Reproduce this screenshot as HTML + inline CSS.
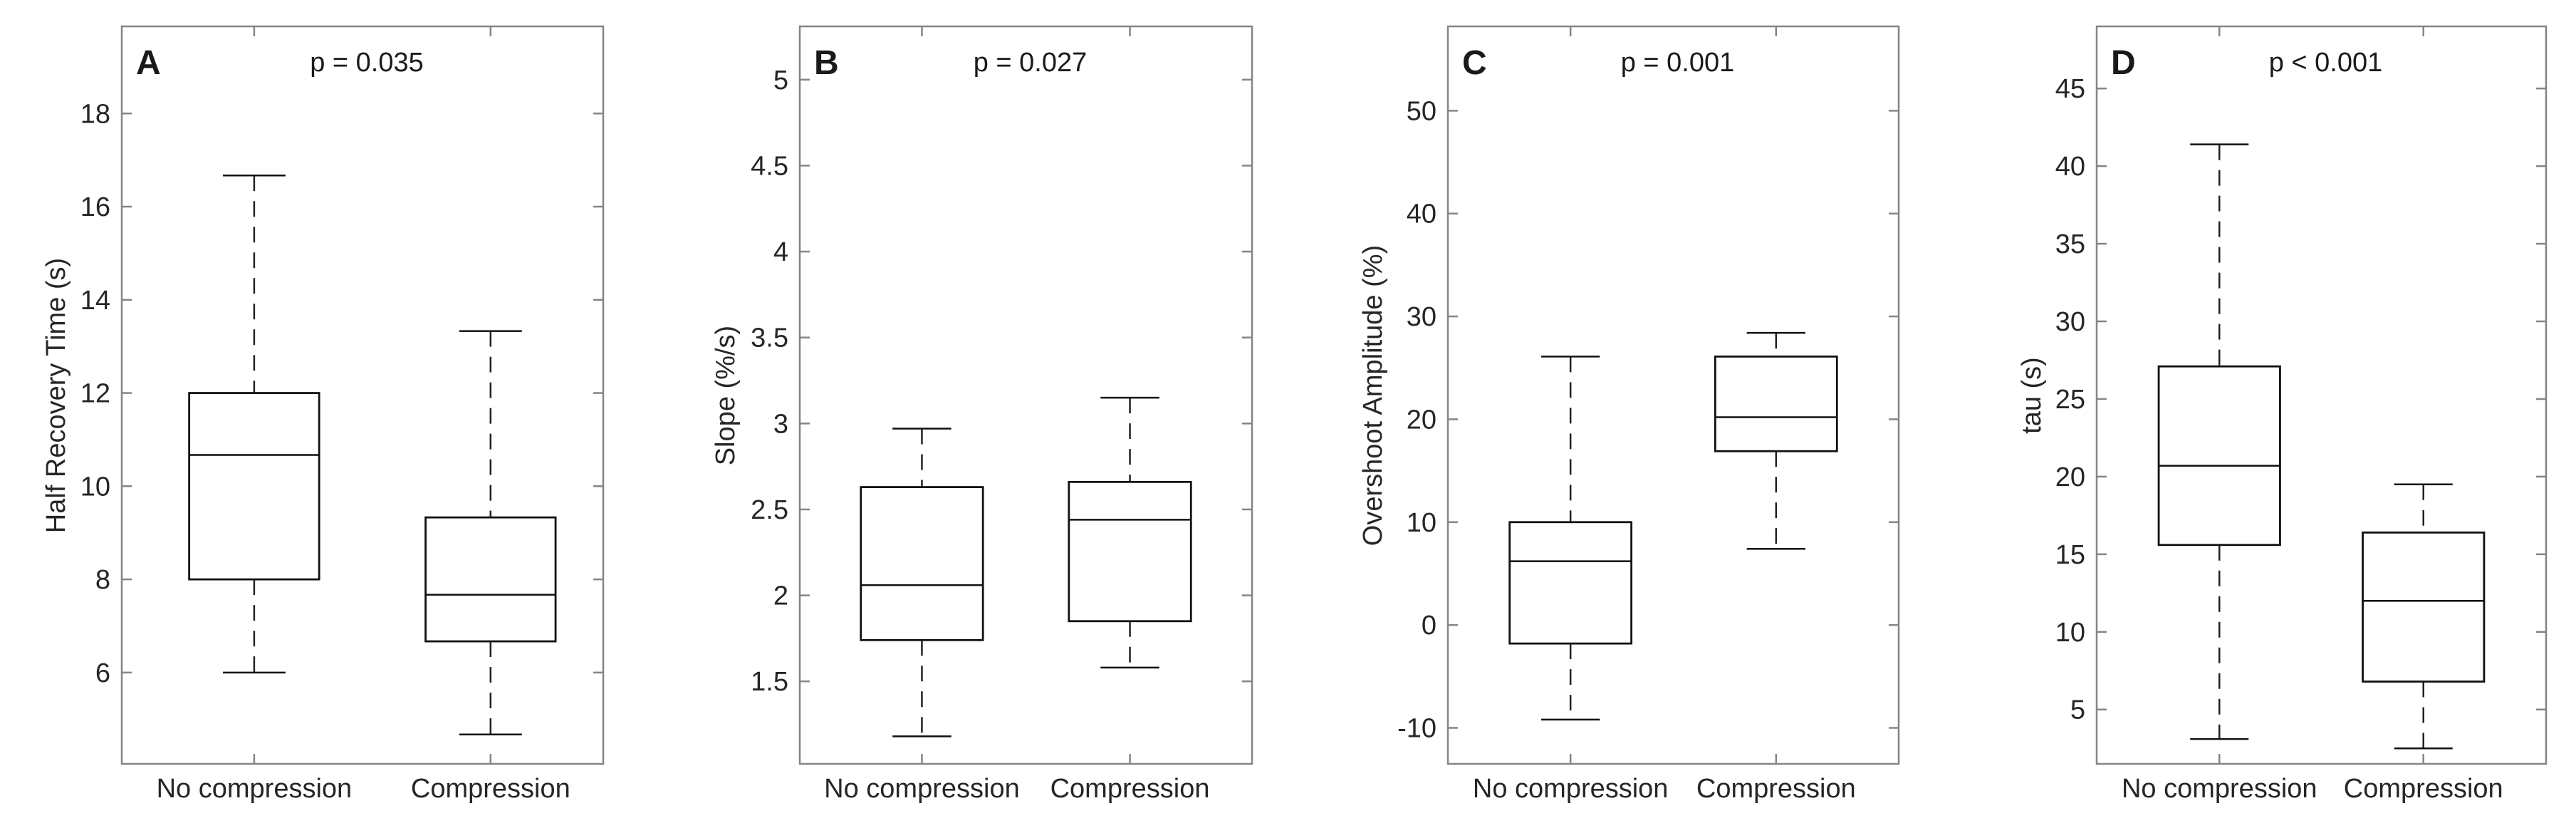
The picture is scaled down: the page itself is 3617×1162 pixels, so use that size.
<!DOCTYPE html>
<html><head><meta charset="utf-8"><style>
html,body{margin:0;padding:0;background:#fff;}
svg{display:block;font-family:"Liberation Sans",Arial,sans-serif;}
</style></head><body>
<svg id="fig" width="3617" height="1162" viewBox="0 0 3617 1162"></svg>
<script>
const categories = ["No compression", "Compression"];
const panelLetters = ["A", "B", "C", "D"];
const pLabels = ["p = 0.035", "p = 0.027", "p = 0.001", "p < 0.001"];
const yTitles = ["Half Recovery Time (s)", "Slope (%/s)", "Overshoot Amplitude (%)", "tau (s)"];
// [upperWhisker, q3, median, q1, lowerWhisker]
const seriesA = [[16.67, 12.0, 10.67, 8.0, 6.0], [13.33, 9.33, 7.67, 6.67, 4.67]];
const seriesB = [[2.97, 2.63, 2.06, 1.74, 1.18], [3.15, 2.66, 2.44, 1.85, 1.58]];
const seriesC = [[26.1, 10.0, 6.2, -1.8, -9.2], [28.4, 26.1, 20.2, 16.9, 7.4]];
const seriesD = [[41.4, 27.1, 20.7, 15.6, 3.1], [19.5, 16.4, 12.0, 6.8, 2.5]];
const ticksA = [6, 8, 10, 12, 14, 16, 18];
const ticksB = [1.5, 2, 2.5, 3, 3.5, 4, 4.5, 5];
const ticksC = [-10, 0, 10, 20, 30, 40, 50];
const ticksD = [5, 10, 15, 20, 25, 30, 35, 40, 45];
const yDomA = [4.04, 19.87];
const yDomB = [1.02, 5.31];
const yDomC = [-13.5, 58.2];
const yDomD = [1.5, 49.0];

const layouts = [
  {l:171,r:847,a1:0.275,a2:0.766,yl:78},
  {l:1123,r:1758,a1:0.27,a2:0.73,yl:1018},
  {l:2033,r:2666,a1:0.272,a2:0.728,yl:1927},
  {l:2944,r:3575,a1:0.273,a2:0.727,yl:2852}
];
const TOP=37, BOT=1072;
const allSeries=[seriesA,seriesB,seriesC,seriesD];
const allTicks=[ticksA,ticksB,ticksC,ticksD];
const allDom=[yDomA,yDomB,yDomC,yDomD];
const NS="http://www.w3.org/2000/svg";
const svg=document.getElementById('fig');
function mk(tag,attrs,parent){const e=document.createElementNS(NS,tag);for(const k in attrs)e.setAttribute(k,attrs[k]);parent.appendChild(e);return e;}

allSeries.forEach((series,pi)=>{
  const L=layouts[pi];
  const g=mk('g',{},svg);
  
  
  const dom=allDom[pi];
  const y=v=>BOT-(v-dom[0])/(dom[1]-dom[0])*(BOT-TOP);
  const w=L.r-L.l;
  const x=i=>L.l+w*(i===0?L.a1:L.a2);
  const bw=0.135*w, cw=0.065*w;
  const frame=mk('rect',{x:L.l,y:TOP,width:w,height:BOT-TOP,fill:'none',stroke:'#858585','stroke-width':2.5},g);
  
  
  allTicks[pi].forEach(t=>{
    const yy=y(t);
    mk('line',{x1:L.l,x2:L.l+14,y1:yy,y2:yy,stroke:'#858585','stroke-width':2.5},g);
    mk('line',{x1:L.r,x2:L.r-14,y1:yy,y2:yy,stroke:'#858585','stroke-width':2.5},g);
    const tl=mk('text',{x:L.l-16,y:yy+13,'text-anchor':'end','font-size':38,fill:'#262626'},g);
    tl.textContent=String(t);
    
    
  });
  categories.forEach((c,i)=>{
    const xx=x(i);
    mk('line',{x1:xx,x2:xx,y1:BOT,y2:BOT-14,stroke:'#858585','stroke-width':2.5},g);
    mk('line',{x1:xx,x2:xx,y1:TOP,y2:TOP+14,stroke:'#858585','stroke-width':2.5},g);
    const xl=mk('text',{x:xx,y:1119,'text-anchor':'middle','font-size':38,fill:'#262626'},g);
    xl.textContent=c;
    
    
  });
  series.forEach((s,i)=>{
    const xx=x(i);
    const bg=mk('g',{},g);
    
    
    mk('line',{x1:xx,x2:xx,y1:y(s[0]),y2:y(s[1]),stroke:'#222','stroke-width':2.5,'stroke-dasharray':'22,14'},bg);
    mk('line',{x1:xx,x2:xx,y1:y(s[3]),y2:y(s[4]),stroke:'#222','stroke-width':2.5,'stroke-dasharray':'22,14'},bg);
    mk('line',{x1:xx-cw,x2:xx+cw,y1:y(s[0]),y2:y(s[0]),stroke:'#111','stroke-width':2.5},bg);
    mk('line',{x1:xx-cw,x2:xx+cw,y1:y(s[4]),y2:y(s[4]),stroke:'#111','stroke-width':2.5},bg);
    mk('rect',{x:xx-bw,y:y(s[1]),width:2*bw,height:y(s[3])-y(s[1]),fill:'none',stroke:'#111','stroke-width':2.8},bg);
    mk('line',{x1:xx-bw,x2:xx+bw,y1:y(s[2]),y2:y(s[2]),stroke:'#111','stroke-width':2.5},bg);
  });
  const lt=mk('text',{x:L.l+20,y:104,'font-size':48,'font-weight':'bold',fill:'#1a1a1a'},g);
  lt.textContent=panelLetters[pi];
  
  
  const pt=mk('text',{x:(L.l+L.r)/2+6,y:100,'text-anchor':'middle','font-size':38,fill:'#1a1a1a'},g);
  pt.textContent=pLabels[pi];
  
  
  const yt=mk('text',{x:L.yl+13,y:555,'text-anchor':'middle','font-size':38,fill:'#262626',transform:`rotate(-90 ${L.yl+13} 555)`},g);
  yt.textContent=yTitles[pi];
  
  
});
</script>
</body></html>
